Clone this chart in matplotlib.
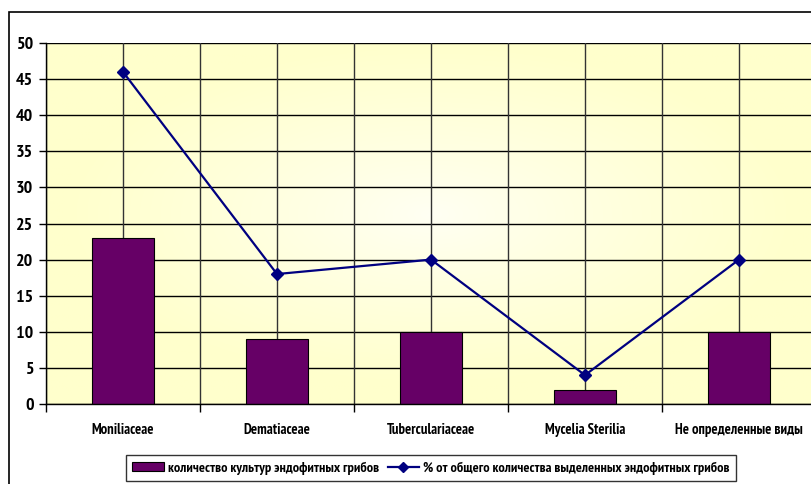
import numpy as np
import matplotlib
matplotlib.use("Agg")
import matplotlib.pyplot as plt
from matplotlib.lines import Line2D
from matplotlib.patches import Patch, Rectangle

categories = ["Moniliaceae", "Dematiaceae", "Tuberculariaceae", "Mycelia Sterilia", "Не определенные виды"]
counts = [23, 9, 10, 2, 10]
percents = [46, 18, 20, 4, 20]
yticks = [0, 5, 10, 15, 20, 25, 30, 35, 40, 45, 50]
bar_label = "количество культур эндофитных грибов"
line_label = "% от общего количества выделенных эндофитных грибов"

plt.rcParams['font.family'] = ['PT Sans Narrow', 'Roboto Condensed', 'Liberation Sans', 'DejaVu Sans']

W, H = 811, 484
fig = plt.figure(figsize=(W / 100, H / 100), dpi=100)

# outer chart frame
fig.add_artist(Rectangle((9 / W, -0.1), 1.2, (H - 12) / H + 0.1, transform=fig.transFigure,
                         fill=False, edgecolor='black', linewidth=1.2, zorder=0))

ax = fig.add_axes([46 / W, (H - 404) / H, 770 / W, 361 / H])
n = len(categories)
x = np.arange(n)
ax.set_xlim(-0.5, n - 0.5)
ax.set_ylim(0, 50)

# radial gradient background
gx = np.linspace(-1, 1, 400)
gy = np.linspace(-1, 1, 300)
GX, GY = np.meshgrid(gx, gy)
r = np.sqrt(((GX - 0.0) / 1.0) ** 2 + ((GY - 0.05) / 1.0) ** 2)
t = np.clip(r / 0.95, 0, 1) ** 0.85
c_edge = np.array([255, 255, 204]) / 255
c_mid = np.array([255, 255, 244]) / 255
img = c_mid[None, None, :] * (1 - t[..., None]) + c_edge[None, None, :] * t[..., None]
ax.imshow(img, extent=(-0.5, n - 0.5, 0, 50), aspect='auto', zorder=0, origin='lower')

# grid lines
for yv in yticks:
    ax.axhline(yv, color='black', linewidth=1.0, zorder=1)
for xv in np.arange(-0.5, n, 0.5):
    ax.axvline(xv, color='#333333', linewidth=1.0, zorder=1)

ax.bar(x, counts, width=0.4, color='#660066', edgecolor='black', linewidth=0.8, zorder=2)
ax.plot(x, percents, color='#000080', linewidth=1.6, marker='D', markersize=6,
        markerfacecolor='#000080', markeredgecolor='#000080', zorder=3)

ax.set_yticks(yticks)
ax.set_yticklabels([str(v) for v in yticks], fontsize=13, fontweight='bold')
ax.set_xticks(x)
ax.set_xticklabels(categories, fontsize=10.5, fontweight='bold')
ax.tick_params(axis='x', length=0, pad=14)
ax.set_xticks(np.arange(-0.5, n, 1.0), minor=True)
ax.tick_params(axis='x', which='minor', length=6, width=1, direction='out')
ax.tick_params(axis='y', length=5, width=1, direction='out', pad=4)
for s in ['top', 'right']:
    ax.spines[s].set_visible(False)
ax.spines['left'].set_linewidth(1.0)
ax.spines['bottom'].set_linewidth(1.0)

handles = [Patch(facecolor='#660066', edgecolor='black', linewidth=0.8),
           Line2D([0], [0], color='#000080', linewidth=1.6, marker='D', markersize=5)]
leg = fig.legend(handles, [bar_label, line_label], loc='upper center',
                 bbox_to_anchor=(431 / W, 1 - 455 / H), ncol=2, frameon=True,
                 fancybox=False, edgecolor='black', prop={'size': 10.3, 'weight': 'bold'},
                 handlelength=2.2, handleheight=0.6, handletextpad=0.3, columnspacing=0.6,
                 borderpad=0.45, borderaxespad=0)
leg.get_frame().set_linewidth(1.0)

fig.savefig("out.png", dpi=100, facecolor='white')
